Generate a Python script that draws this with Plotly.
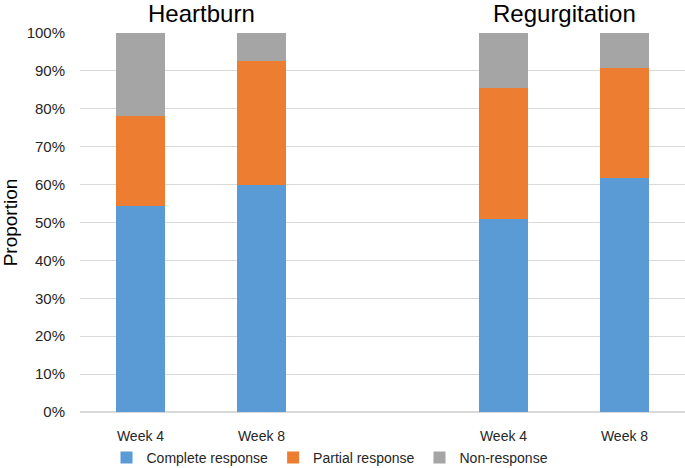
import plotly.graph_objects as go

positions = [0, 1, 3, 4]
week_labels = ["Week 4", "Week 8", "Week 4", "Week 8"]
group_titles = ["Heartburn", "Regurgitation"]
group_centers = [0.5, 3.5]

complete = [54.3, 60.0, 51.0, 61.7]
partial = [23.7, 32.7, 34.4, 29.1]
nonresp = [22.0, 7.3, 14.6, 9.2]

series = [
    ("Complete response", complete, "#5B9BD5"),
    ("Partial response", partial, "#ED7D31"),
    ("Non-response", nonresp, "#A5A5A5"),
]

W, H = 685, 468

fig = go.Figure()
for name, vals, color in series:
    fig.add_trace(go.Bar(
        x=positions, y=[v / 100 for v in vals], name=name,
        marker=dict(color=color, line=dict(width=0)), width=0.4,
    ))

for title, cx in zip(group_titles, group_centers):
    fig.add_annotation(x=cx, y=1.0, xref="x", yref="paper", text=title,
                       showarrow=False, yanchor="middle", yshift=20,
                       font=dict(size=24, color="#000"))

fig.update_layout(
    barmode="stack",
    width=W, height=H,
    margin=dict(l=80, r=0, t=33, b=56, autoexpand=False),
    paper_bgcolor="white", plot_bgcolor="white",
    font=dict(family="Liberation Sans, Arial, sans-serif", size=14, color="#262626"),
    showlegend=True,
    legend=dict(orientation="h", x=330 / W, xref="container", xanchor="center",
                y=10 / H, yref="container", yanchor="middle",
                font=dict(size=14, color="#262626"), traceorder="normal",
                itemwidth=30, tracegroupgap=0, bgcolor="rgba(0,0,0,0)"),
    bargap=0.6,
)
fig.update_xaxes(range=[-0.5, 4.5], tickvals=positions, ticktext=week_labels,
                 showgrid=False, zeroline=False, showline=False, ticks="",
                 automargin=False,
                 ticklabelstandoff=14, tickfont=dict(size=14, color="#262626"))
fig.update_yaxes(range=[0, 1], dtick=0.1, tickformat=".0%", showgrid=True,
                 gridcolor="#D9D9D9", gridwidth=1, zeroline=True, zerolinecolor="#D9D9D9",
                 showline=False, ticks="", ticklabelstandoff=14, automargin=False,
                 title=dict(text="Proportion", font=dict(size=19, color="#000"), standoff=8),
                 tickfont=dict(size=15, color="#262626"))

fig.write_html("out.html", config={"displayModeBar": False},
               post_script="document.body.style.margin='0';")
